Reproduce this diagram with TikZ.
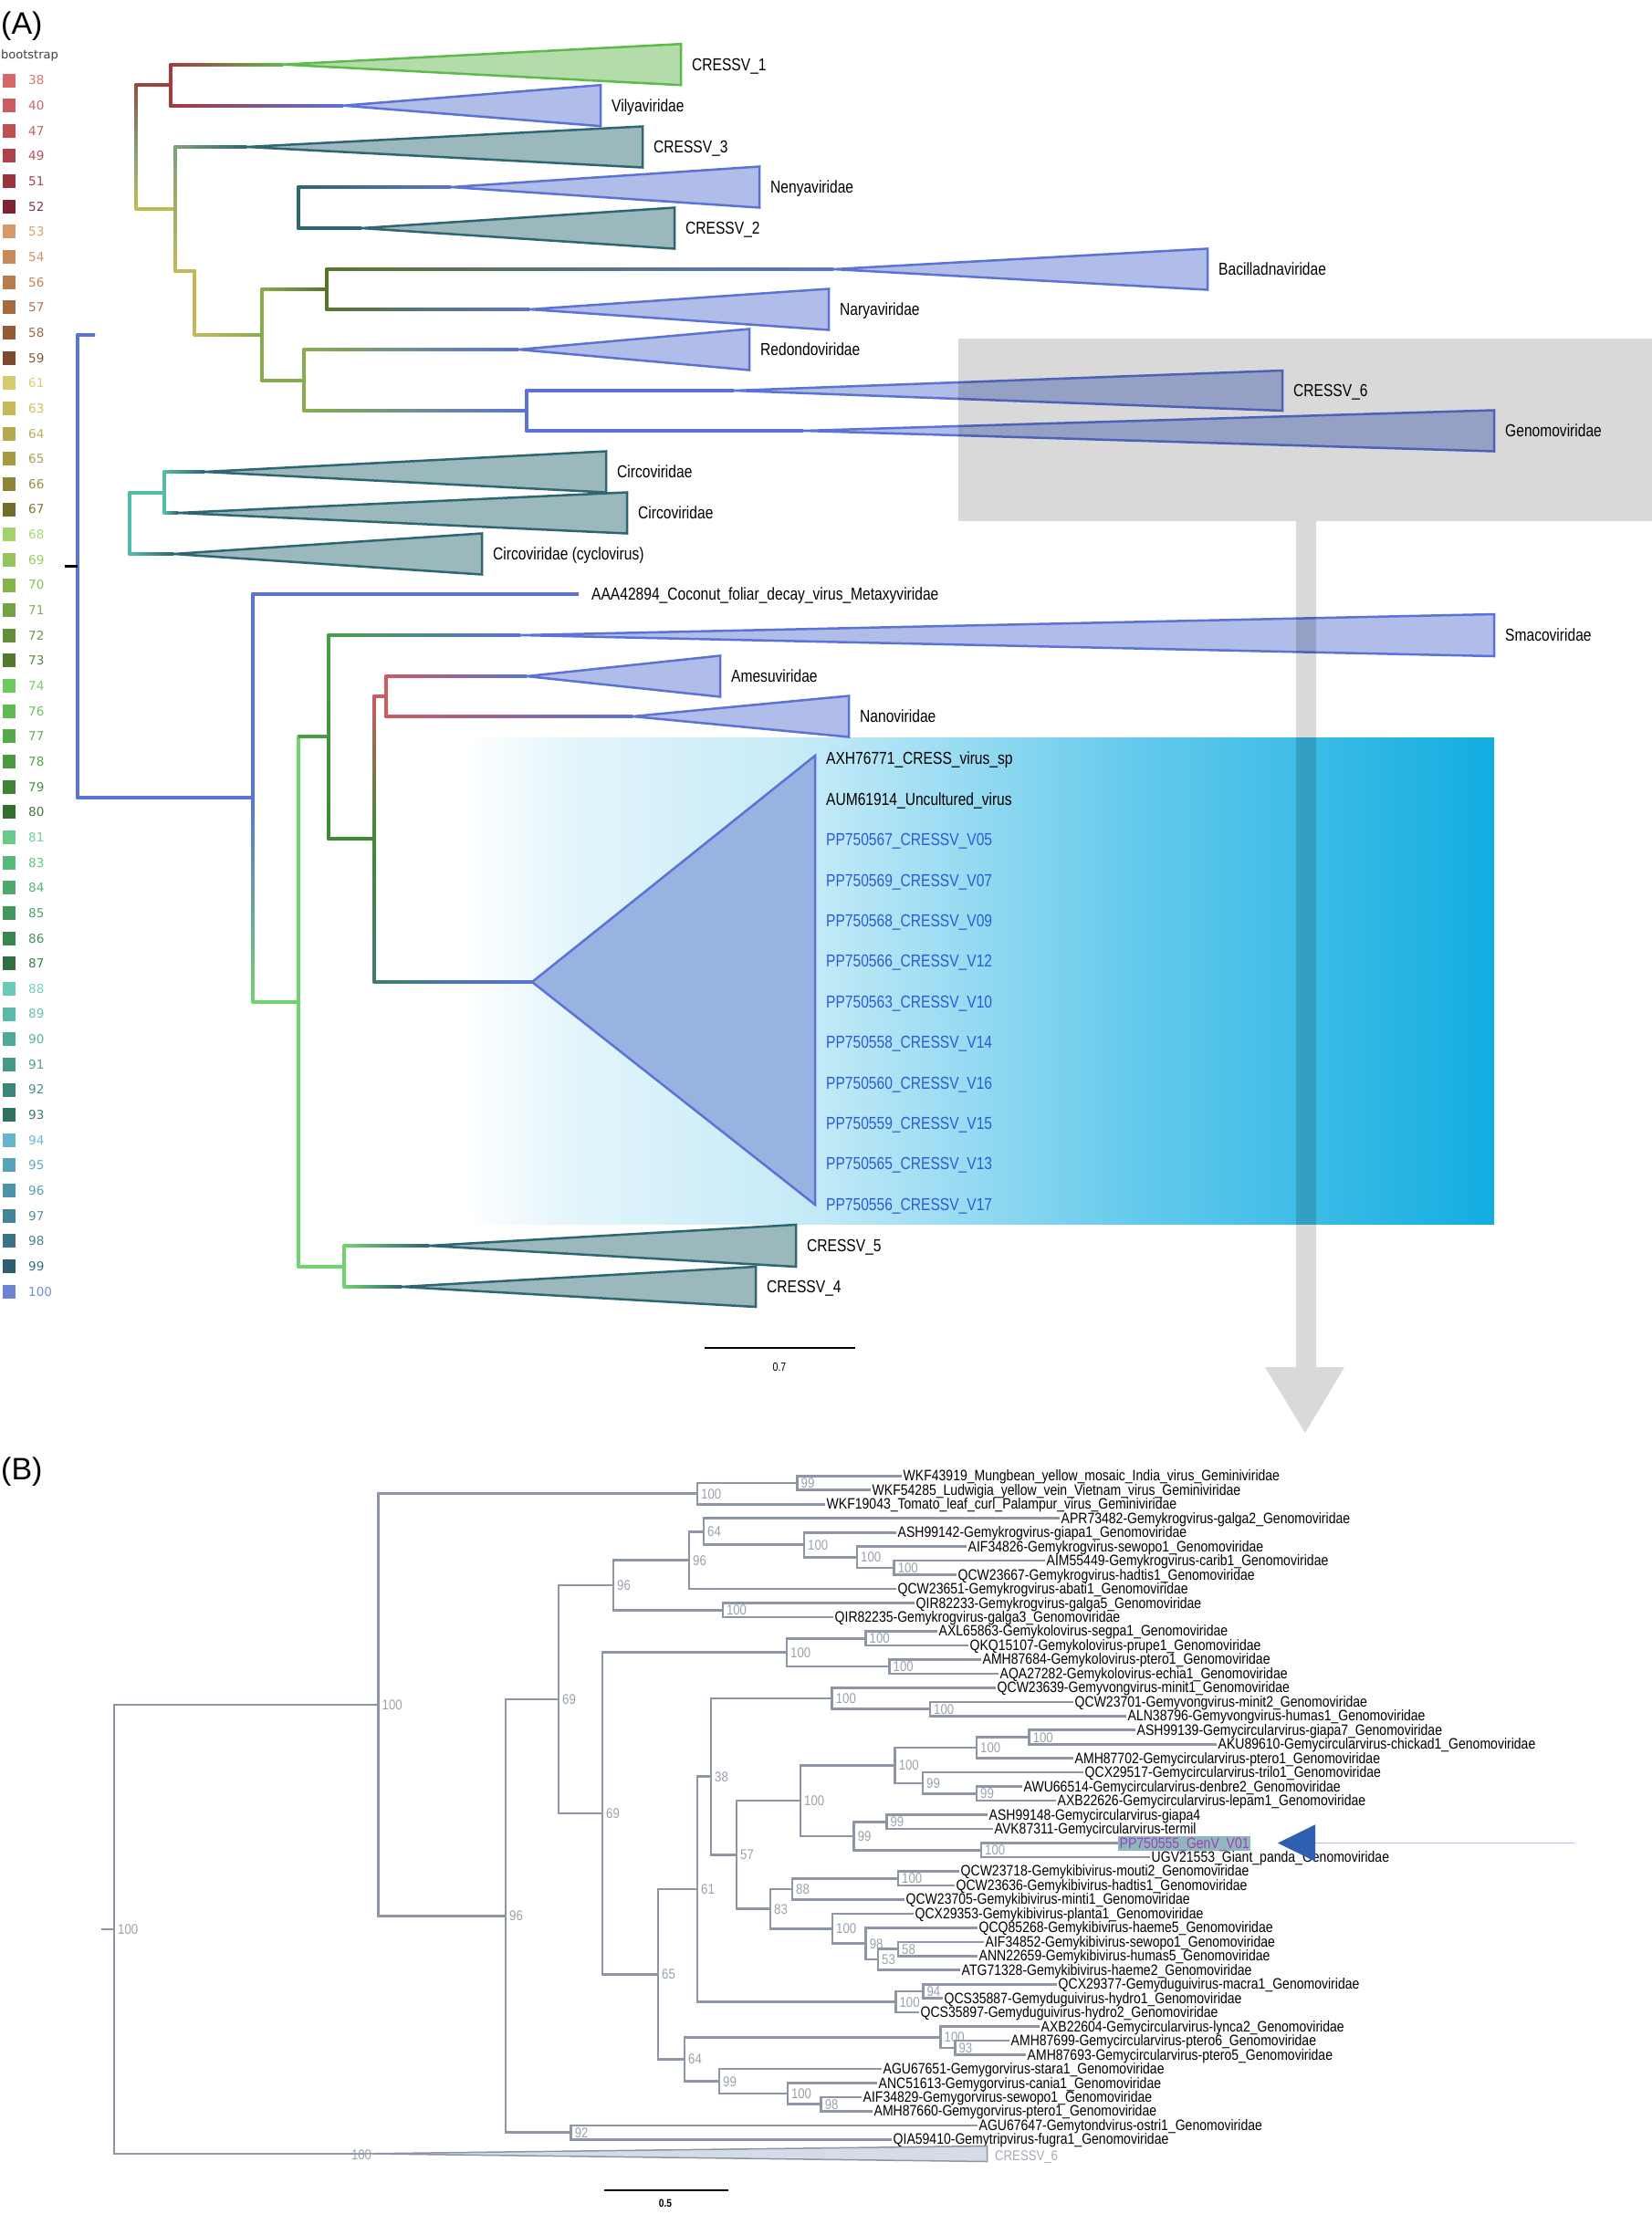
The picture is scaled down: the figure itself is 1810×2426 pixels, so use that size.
\documentclass[tikz,border=0pt]{standalone}
\usepackage{fontspec}
\setmainfont{Liberation Sans}
\newfontfamily\cladefont[FakeStretch=0.82]{Liberation Sans}
\newfontfamily\taxonfont[FakeStretch=0.85]{Liberation Sans}
\newfontfamily\legendfont{DejaVu Sans}
\usetikzlibrary{calc,arrows.meta}

\definecolor{cladeblue}{HTML}{5B73D6}
\definecolor{cladebluefill}{HTML}{B0BDE8}
\definecolor{cladegreen}{HTML}{5DBB4A}
\definecolor{cladegreenfill}{HTML}{B3DCAA}
\definecolor{cladeteal}{HTML}{2F6672}
\definecolor{cladetealfill}{HTML}{9BB8BD}
\definecolor{bigfill}{HTML}{98B3E2}
\definecolor{brred}{HTML}{A8383F}
\definecolor{brbrown}{HTML}{9A4A3C}
\definecolor{brsage}{HTML}{7FA07A}
\definecolor{brolive}{HTML}{56772A}
\definecolor{bryellow}{HTML}{C4BA55}
\definecolor{brlime}{HTML}{86AD4C}
\definecolor{brmint}{HTML}{52BCA8}
\definecolor{brlight}{HTML}{6FD46F}
\definecolor{brgreen}{HTML}{4A9D45}
\definecolor{brdark}{HTML}{3D8A38}
\definecolor{brteal}{HTML}{3F7B72}
\definecolor{brpink}{HTML}{CC5A5E}
\definecolor{tipblue}{HTML}{2B5BD6}
\definecolor{treegray}{HTML}{8E96A6}
\definecolor{bootgray}{HTML}{9BA1AB}
\definecolor{cr6fill}{HTML}{D3DCE7}
\definecolor{genvfill}{HTML}{8DB8BC}
\definecolor{genvtext}{HTML}{A63CC0}
\definecolor{ptrblue}{HTML}{2E5FB0}
\definecolor{ptrline}{HTML}{A9C3E6}
\definecolor{cyanA}{HTML}{E4F5FB}
\definecolor{cyanB}{HTML}{C3EAF7}
\definecolor{cyanC}{HTML}{62C9EC}
\definecolor{cyanD}{HTML}{12ADE0}
\pgfdeclarehorizontalshading{cyanfade}{100bp}{color(0bp)=(white); color(25bp)=(white); color(30bp)=(cyanA); color(42bp)=(cyanB); color(58bp)=(cyanC); color(75bp)=(cyanD); color(100bp)=(cyanD)}

% horizontal and vertical branch pieces (shaded)
\newcommand{\hbr}[4]{\shade[left color=#3,right color=#4] ($(#1|-#2)+(0,-1.5)$) rectangle ($(#2)+(0,1.5)$);}
\newcommand{\vbr}[5]{\shade[top color=#4,bottom color=#5] ($(#1|-#2)+(-1.5,-1.5)$) rectangle ($(#1|-#3)+(1.5,1.5)$);}

\begin{document}
\begin{tikzpicture}[x=1pt,y=-1pt,
  cladelab/.style={anchor=west, inner sep=0pt, text height=13.6pt, text depth=0pt, font=\cladefont\fontsize{19}{19}\selectfont},
  gclade/.style={fill=cladegreenfill, draw=cladegreen, line width=2.5pt},
  bclade/.style={fill=cladebluefill, draw=cladeblue, line width=2.5pt},
  tclade/.style={fill=cladetealfill, draw=cladeteal, line width=2.5pt},
  legnum/.style={anchor=west, inner sep=0pt, font=\legendfont\fontsize{13.5}{13.5}\selectfont},
  bline/.style={draw=treegray, line width=2.6pt},
  bleaf/.style={anchor=west, inner sep=1.5pt, text height=12pt, text depth=1pt, font=\taxonfont\fontsize{16.5}{16.5}\selectfont},
  boot/.style={anchor=west, inner sep=0pt, text=bootgray, text height=11pt, text depth=0pt, font=\taxonfont\fontsize{15.5}{15.5}\selectfont},
  panel/.style={anchor=west, inner sep=0pt, font=\fontsize{34}{34}\selectfont}]
\fill[white] (0,0) rectangle (1810,2426);
\useasboundingbox (0,0) rectangle (1810,2426);

%%%% (A)
\node[panel] (pA) at (1,29) {(A)};
\node[anchor=west, inner sep=0pt, text=black!75, font=\legendfont\fontsize{13}{13}\selectfont] (bshead) at (1,61) {bootstrap};
\foreach \v/\c [count=\i from 0] in {38/D9666B,40/CC5A5E,47/C04F54,49/AE434A,51/9A353D,52/7D2430,
   53/D69A6A,54/C98A58,56/B97A4C,57/A86B40,58/935A34,59/7A4A2A,
   61/D6CB6A,63/C6BB58,64/B5AA4C,65/A49A40,66/8D8535,67/746D2A,
   68/A3D46A,69/93C55A,70/84B54C,71/74A442,72/628F38,73/517A2E,
   74/6DCA5F,76/5FBA52,77/53AA48,78/4A9840,79/3E8436,80/326E2C,
   81/66CC88,83/58BA78,84/4DAA6A,85/44985D,86/3A8651,87/2E7044,
   88/66CCB8,89/58BAA8,90/4DAA98,91/449888,92/3A8678,93/2E7064,
   94/66B3CC,95/58A3BA,96/4D94AA,97/448498,98/3A7386,99/2E5F70,100/6B84D6}
 {
  \edef\setbs{\noexpand\definecolor{bsc}{HTML}{\c}}\setbs
  \fill[bsc] (3,{88+27.65*\i-7.5}) rectangle (17,{88+27.65*\i+7.5});
  \node[legnum, text=bsc!92!white] (bs\v) at (31,{88+27.65*\i}) {\v};
 }

% highlighted clade
\shade[shading=cyanfade] (510,808) rectangle (1637,1341);

% collapsed clades
\foreach \n/\tx/\rx/\y/\h/\s/\lab in {
  t1/310/746/70.7/22.5/gclade/CRESSV\_1,
  t2/376/658/115.7/22.5/bclade/Vilyaviridae,
  t3/270/704/161/22.5/tclade/CRESSV\_3,
  t4/494/832/205/22.5/bclade/Nenyaviridae,
  t5/396/739/250/22.5/tclade/CRESSV\_2,
  t6/913/1323/295/22.5/bclade/Bacilladnaviridae,
  t7/580/908/339/22.5/bclade/Naryaviridae,
  t8/568/821/383/22.5/bclade/Redondoviridae,
  t9/804/1405/428/22/bclade/CRESSV\_6,
  t10/880/1637/472/22.5/bclade/Genomoviridae,
  t11/224/664/517/22.5/tclade/Circoviridae,
  t12/195/687/562/22.5/tclade/Circoviridae,
  t13/190/528/607/22.5/tclade/Circoviridae (cyclovirus),
  t14/570/1637/696/23/bclade/Smacoviridae,
  t15/577/789/741/22.5/bclade/Amesuviridae,
  t16/693/930/785/22.5/bclade/Nanoviridae,
  t17/470/872/1365/23/tclade/CRESSV\_5,
  t18/440/828/1410/22/tclade/CRESSV\_4}
 {
  \coordinate (\n) at (\tx,\y);
  \filldraw[\s] (\n) -- (\rx,\y-\h) -- (\rx,\y+\h) -- cycle;
  \node[cladelab] (\n-lab) at (\rx+12,\y) {\lab};
 }
\coordinate (tBig) at (583,1076);
\filldraw[fill=bigfill, draw=cladeblue, line width=2.5pt] (tBig) -- (893,828) -- (893,1320) -- cycle;

% inner nodes of tree A
\coordinate (aR) at (85,620.5);
\coordinate (aTick) at (71,620.5);
\coordinate (aStub) at (104,367);
\coordinate (aU) at (149,161);
\coordinate (aU1) at (187,93.2);
\coordinate (aU2) at (192,229);
\coordinate (aU3) at (213,297);
\coordinate (aU4) at (287,367);
\coordinate (aU5) at (358,317);
\coordinate (aU6) at (333,417);
\coordinate (aU7) at (577,450);
\coordinate (aNe) at (327,227.5);
\coordinate (aCi) at (142,573);
\coordinate (aCi1) at (180,539.5);
\coordinate (aL) at (277,874);
\coordinate (aaaEnd) at (634,651);
\coordinate (aL1) at (327,1097.5);
\coordinate (aL2) at (360,807);
\coordinate (aL3) at (410,919);
\coordinate (aL4) at (423,763);
\coordinate (aL5) at (377,1387.5);

% upper part
\shade[top color=brbrown, bottom color=bryellow, middle color=brsage] ($(aU|-aU1)+(-1.5,-1.5)$) rectangle ($(aU|-aU2)+(1.5,1.5)$);
\hbr{aU}{aU1}{brbrown}{brred}
\vbr{aU1}{t1}{t2}{brred}{brred}
\hbr{aU1}{t1}{brred}{cladegreen}
\hbr{aU1}{t2}{brred}{cladeblue}
\hbr{aU}{aU2}{bryellow}{bryellow}
\vbr{aU2}{t3}{aU3}{brsage}{bryellow}
\hbr{aU2}{t3}{brsage}{cladeteal}
\hbr{aU2}{aU3}{bryellow}{bryellow}
\vbr{aU3}{aU3}{aU4}{bryellow}{bryellow}
\hbr{aU3}{aU4}{bryellow}{brlime}
\vbr{aU4}{aU5}{aU6}{brlime}{brlime}
\hbr{aU4}{aU5}{brlime}{brolive}
\vbr{aU5}{t6}{t7}{brolive}{brolive}
\hbr{aU5}{t6}{brolive}{cladeblue}
\hbr{aU5}{t7}{brolive}{cladeblue}
\hbr{aU4}{aU6}{brlime}{brlime}
\vbr{aU6}{t8}{aU7}{brlime}{brlime}
\hbr{aU6}{t8}{brlime}{cladeblue}
\hbr{aU6}{aU7}{brlime}{cladeblue}
\vbr{aU7}{t9}{t10}{cladeblue}{cladeblue}
\hbr{aU7}{t9}{cladeblue}{cladeblue}
\hbr{aU7}{t10}{cladeblue}{cladeblue}
\vbr{aNe}{t4}{t5}{cladeteal}{cladeteal}
\hbr{aNe}{t4}{cladeteal}{cladeblue}
\hbr{aNe}{t5}{cladeteal}{cladeteal}
% circoviruses
\vbr{aCi}{aCi1}{t13}{brmint}{brmint}
\hbr{aCi}{aCi1}{brmint}{brmint}
\vbr{aCi1}{t11}{t12}{brmint}{brmint}
\hbr{aCi1}{t11}{brmint}{cladeteal}
\hbr{aCi1}{t12}{brmint}{cladeteal}
\hbr{aCi}{t13}{brmint}{cladeteal}
% root and lower part
\vbr{aR}{aStub}{aL}{cladeblue}{cladeblue}
\hbr{aR}{aStub}{cladeblue}{cladeblue}
\draw[black, line width=3pt] (aTick) -- (aR);
\hbr{aR}{aL}{cladeblue}{cladeblue}
\shade[top color=cladeblue, bottom color=brlight, middle color=cladeblue] ($(aL|-aaaEnd)+(-1.5,-1.5)$) rectangle ($(aL|-aL1)+(1.5,1.5)$);
\hbr{aL}{aaaEnd}{cladeblue}{cladeblue}
\hbr{aL}{aL1}{brlight}{brlight}
\vbr{aL1}{aL2}{aL5}{brlight}{brlight}
\hbr{aL1}{aL2}{brgreen}{brgreen}
\vbr{aL2}{t14}{aL3}{brgreen}{brdark}
\hbr{aL2}{t14}{brgreen}{cladeblue}
\hbr{aL2}{aL3}{brdark}{brdark}
\shade[top color=brpink, bottom color=brteal, middle color=brdark] ($(aL3|-aL4)+(-1.5,-1.5)$) rectangle ($(aL3|-tBig)+(1.5,1.5)$);
\hbr{aL3}{aL4}{brpink}{brpink}
\vbr{aL4}{t15}{t16}{brpink}{brpink}
\hbr{aL4}{t15}{brpink}{cladeblue}
\hbr{aL4}{t16}{brpink}{cladeblue}
\hbr{aL3}{tBig}{brteal}{cladeblue}
\hbr{aL1}{aL5}{brlight}{brlight}
\vbr{aL5}{t17}{t18}{brlight}{brlight}
\hbr{aL5}{t17}{brlight}{cladeteal}
\hbr{aL5}{t18}{brlight}{cladeteal}

\node[cladelab] (aaa) at (648,651) {AAA42894\_Coconut\_foliar\_decay\_virus\_Metaxyviridae};
\foreach \t [count=\k from 0] in {AXH76771\_CRESS\_virus\_sp, AUM61914\_Uncultured\_virus,
   PP750567\_CRESSV\_V05, PP750569\_CRESSV\_V07, PP750568\_CRESSV\_V09, PP750566\_CRESSV\_V12,
   PP750563\_CRESSV\_V10, PP750558\_CRESSV\_V14, PP750560\_CRESSV\_V16, PP750559\_CRESSV\_V15,
   PP750565\_CRESSV\_V13, PP750556\_CRESSV\_V17}
 {
  \ifnum\k<2 \def\bc{black}\else\def\bc{tipblue}\fi
  \node[cladelab, text=\bc] (bx\k) at (905,{831+44.4*\k}) {\t};
 }

% scale A
\coordinate (sa1) at (772,1477);
\coordinate (sa2) at (937,1477);
\draw[black, line width=2pt] (sa1) -- (sa2);
\node[inner sep=0pt, font=\cladefont\fontsize{13}{13}\selectfont] (salab) at (854,1498) {0.7};

%%%% (B)
\node[panel] (pB) at (1,1613) {(B)};
% inner nodes: name/x/y/bootstrap
\foreach \n/\x/\y/\b in {nR/125/2113.9/100, nA/414.5/1868/100, nG/764/1636.6/100, n99a/873.5/1625/99,
   nB/554/2099.3/96, nC/612/1862/69, nE/672/1737/96, nK96/755/1709.6/96, nK64/771/1678.2/64,
   nK100a/881/1692.7/100, nK100b/939/1706.3/100, nK100c/979.6/1717.9/100, nQ/791.8/1764.3/100,
   nF/660/1987/69, nL/862/1810.7/100, nL1/948.5/1795.2/100, nL2/974.5/1826.1/100,
   n65/721/2163.3/65, n61/764/2070.1/61, n38/779/1946.7/38, nV/911.7/1861/100, nV2/1019/1872.6/100,
   n57/807/2032.3/57, nCirc/877/1973.1/100, nCr1/980.6/1934.4/100, nCr2/1070/1915.1/100,
   nCr3/1127.6/1903.5/100, nCr4/1011/1953.8/99, nCr5/1070/1965.4/99, nP/935.7/2011.8/99,
   nP1/971.4/1996.3/99, nP2/1075/2027.3/100, nKb83/844/2091.6/83, nKb88/868/2069.8/88,
   nKb1/984/2058.2/100, nKb100/912/2113.3/100, nKb98/948.6/2129.7/98, nKb53/962/2147.1/53,
   nKb58/984/2135.5/58, nD/981.4/2193.6/100, nD94/1011.4/2182/94, n64/750/2256.4/64,
   nY/1030.5/2232.2/100, nY93/1046.4/2243.8/93, nGo99/788/2280.6/99, nGo100/862.8/2294.1/100,
   nGo98/899.7/2305.7/98, nD92/625.7/2336.7/92}
 {
  \coordinate (\n) at (\x,\y);
  \node[boot] (\n-bs) at (\x+4,\y) {\b};
 }
\coordinate (bRs) at (111,2113.9);
\coordinate (bTip) at (400,2359.86);
\draw[bline] (bRs) -- (nR);
\foreach \p/\c in {nR/nA, nA/nG, nA/nB, nG/n99a, nB/nC, nB/nD92, nC/nE, nC/nF, nE/nK96, nE/nQ,
   nK96/nK64, nK64/nK100a, nK100a/nK100b, nK100b/nK100c, nF/nL, nF/n65, nL/nL1, nL/nL2,
   n65/n61, n65/n64, n61/n38, n61/nD, n38/nV, n38/n57, nV/nV2, n57/nCirc, n57/nKb83,
   nCirc/nCr1, nCirc/nP, nCr1/nCr2, nCr1/nCr4, nCr2/nCr3, nCr4/nCr5, nP/nP1, nP/nP2,
   nKb83/nKb88, nKb83/nKb100, nKb88/nKb1, nKb100/nKb98, nKb98/nKb53, nKb53/nKb58,
   nD/nD94, n64/nY, n64/nGo99, nY/nY93, nGo99/nGo100, nGo100/nGo98}
  \draw[bline] (\p) |- (\c);

% leaves: index/x/parent/name
\foreach \i/\x/\p/\t in {
  1/988/n99a/WKF43919\_Mungbean\_yellow\_mosaic\_India\_virus\_Geminiviridae,
  2/954/n99a/WKF54285\_Ludwigia\_yellow\_vein\_Vietnam\_virus\_Geminiviridae,
  3/904/nG/WKF19043\_Tomato\_leaf\_curl\_Palampur\_virus\_Geminiviridae,
  4/1161/nK64/APR73482-Gemykrogvirus-galga2\_Genomoviridae,
  5/982/nK100a/ASH99142-Gemykrogvirus-giapa1\_Genomoviridae,
  6/1059/nK100b/AIF34826-Gemykrogvirus-sewopo1\_Genomoviridae,
  7/1145/nK100c/AIM55449-Gemykrogvirus-carib1\_Genomoviridae,
  8/1048/nK100c/QCW23667-Gemykrogvirus-hadtis1\_Genomoviridae,
  9/982/nK96/QCW23651-Gemykrogvirus-abati1\_Genomoviridae,
  10/1002/nQ/QIR82233-Gemykrogvirus-galga5\_Genomoviridae,
  11/913/nQ/QIR82235-Gemykrogvirus-galga3\_Genomoviridae,
  12/1027/nL1/AXL65863-Gemykolovirus-segpa1\_Genomoviridae,
  13/1061/nL1/QKQ15107-Gemykolovirus-prupe1\_Genomoviridae,
  14/1075/nL2/AMH87684-Gemykolovirus-ptero1\_Genomoviridae,
  15/1094/nL2/AQA27282-Gemykolovirus-echia1\_Genomoviridae,
  16/1091/nV/QCW23639-Gemyvongvirus-minit1\_Genomoviridae,
  17/1176/nV2/QCW23701-Gemyvongvirus-minit2\_Genomoviridae,
  18/1234/nV2/ALN38796-Gemyvongvirus-humas1\_Genomoviridae,
  19/1244/nCr3/ASH99139-Gemycircularvirus-giapa7\_Genomoviridae,
  20/1333/nCr3/AKU89610-Gemycircularvirus-chickad1\_Genomoviridae,
  21/1176/nCr2/AMH87702-Gemycircularvirus-ptero1\_Genomoviridae,
  22/1187/nCr4/QCX29517-Gemycircularvirus-trilo1\_Genomoviridae,
  23/1120/nCr5/AWU66514-Gemycircularvirus-denbre2\_Genomoviridae,
  24/1157/nCr5/AXB22626-Gemycircularvirus-lepam1\_Genomoviridae,
  25/1082/nP1/ASH99148-Gemycircularvirus-giapa4,
  26/1088/nP1/AVK87311-Gemycircularvirus-termil,
  28/1260/nP2/UGV21553\_Giant\_panda\_Genomoviridae,
  29/1051/nKb1/QCW23718-Gemykibivirus-mouti2\_Genomoviridae,
  30/1046/nKb1/QCW23636-Gemykibivirus-hadtis1\_Genomoviridae,
  31/991/nKb88/QCW23705-Gemykibivirus-minti1\_Genomoviridae,
  32/1001/nKb100/QCX29353-Gemykibivirus-planta1\_Genomoviridae,
  33/1071/nKb98/QCQ85268-Gemykibivirus-haeme5\_Genomoviridae,
  34/1078/nKb58/AIF34852-Gemykibivirus-sewopo1\_Genomoviridae,
  35/1071/nKb58/ANN22659-Gemykibivirus-humas5\_Genomoviridae,
  36/1052/nKb53/ATG71328-Gemykibivirus-haeme2\_Genomoviridae,
  37/1158/nD94/QCX29377-Gemyduguivirus-macra1\_Genomoviridae,
  38/1033/nD94/QCS35887-Gemyduguivirus-hydro1\_Genomoviridae,
  39/1007/nD/QCS35897-Gemyduguivirus-hydro2\_Genomoviridae,
  40/1139/nY/AXB22604-Gemycircularvirus-lynca2\_Genomoviridae,
  41/1106/nY93/AMH87699-Gemycircularvirus-ptero6\_Genomoviridae,
  42/1124/nY93/AMH87693-Gemycircularvirus-ptero5\_Genomoviridae,
  43/966/nGo99/AGU67651-Gemygorvirus-stara1\_Genomoviridae,
  44/961/nGo100/ANC51613-Gemygorvirus-cania1\_Genomoviridae,
  45/944/nGo98/AIF34829-Gemygorvirus-sewopo1\_Genomoviridae,
  46/956/nGo98/AMH87660-Gemygorvirus-ptero1\_Genomoviridae,
  47/1071/nD92/AGU67647-Gemytondvirus-ostri1\_Genomoviridae,
  48/977/nD92/QIA59410-Gemytripvirus-fugra1\_Genomoviridae}
 {
  \node[bleaf] (l\i) at (\x,{1617.3+15.47*(\i-1)}) {\t};
  \draw[bline] (\p) |- (l\i.west);
 }
% the new genome
\node[bleaf, fill=genvfill, text=genvtext] (l27) at (1225,2019.52) {PP750555\_GenV\_V01};
\draw[bline] (nP2) |- (l27.west);
\coordinate (ptrTip) at (1400,2019.5);
\coordinate (ptrEnd) at (1725,2019.5);
\draw[ptrline, line width=1.5pt, -{Triangle[length=41pt,width=40pt,color=ptrblue]}] (ptrEnd) -- (ptrTip);

% collapsed CRESSV_6
\draw[bline] (nR) |- (bTip);
\filldraw[fill=cr6fill, draw=treegray, line width=1.5pt] (bTip) -- (1081.5,2351.5) -- (1081.5,2368.5) -- cycle;
\node[boot, anchor=center] (cr6bs) at (396,2361) {100};
\node[boot, text=treegray!80] (cr6lab) at (1090,2362) {CRESSV\_6};

% scale B
\coordinate (sb1) at (662,2400);
\coordinate (sb2) at (798,2400);
\draw[black, line width=2pt] (sb1) -- (sb2);
\node[inner sep=0pt, font=\taxonfont\bfseries\fontsize{12}{12}\selectfont] (sblab) at (729,2414) {0.5};

%%%% zoom box and arrow
\fill[black, opacity=0.15] (1050,371) rectangle (1810,571);
\fill[black, opacity=0.15] (1420,571) -- (1442,571) -- (1442,1498) -- (1473,1498) -- (1430,1570)
   -- (1386,1498) -- (1420,1498) -- cycle;
\end{tikzpicture}
\end{document}
